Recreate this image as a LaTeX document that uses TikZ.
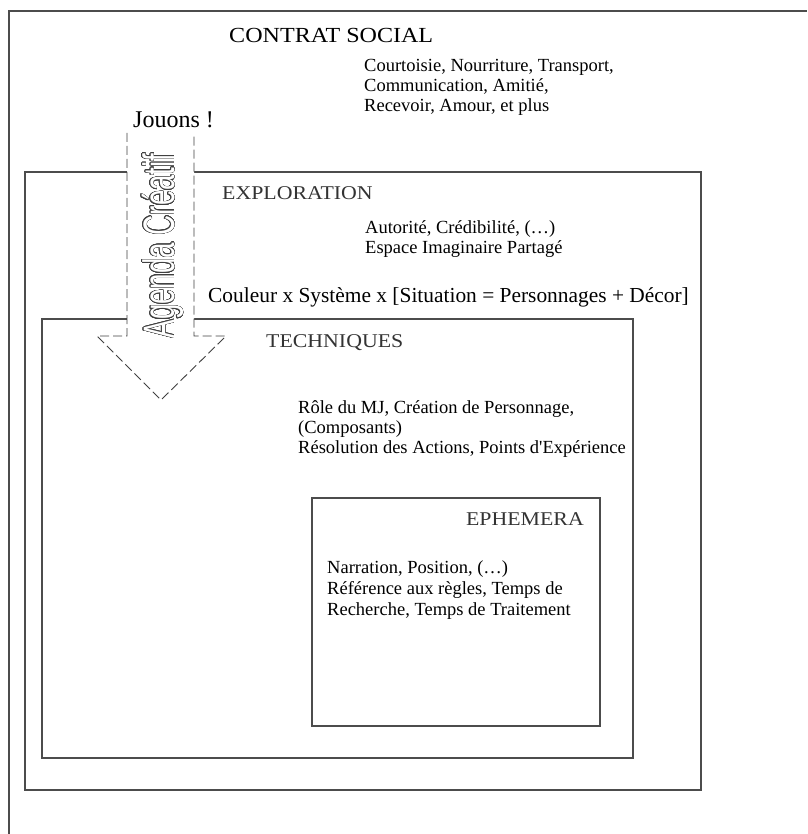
\documentclass[tikz,border=0pt]{standalone}
\usepackage{fontspec}
\setmainfont{Liberation Serif}
\newfontfamily\capsfam[FakeStretch=1.12]{Liberation Serif}
\newfontfamily\agendafam[FakeStretch=0.63]{Liberation Sans}
\usepackage{contour}
\contourlength{0.5pt}
\contournumber{24}
\usetikzlibrary{positioning}
\newcommand\straightquote{\XeTeXglyph\XeTeXcharglyph"27\relax}
\tikzset{
  layerbox/.style={draw=black!70, line width=1.1pt},
  heading/.style={anchor=base west, inner sep=0pt, text=black!80, font=\capsfam\fontsize{19.5}{22}\selectfont},
  bigtext/.style={anchor=base west, inner sep=0pt, font=\fontsize{21.4}{24}\selectfont},
  itemlist/.style={anchor=north west, inner sep=0pt, align=left, font=\fontsize{18.5}{20}\selectfont},
  agendaline/.style={draw=black!75, line width=0.9pt, dash pattern=on 9pt off 4pt},
}

\begin{document}
\begin{tikzpicture}[x=1pt, y=-1pt]
  \useasboundingbox (0,0) rectangle (807,834);

  % frame of the page
  \draw[layerbox] (9,834) |- (807,11);

  % nested layers
  \draw[layerbox] (25,172) rectangle (701,790);
  \draw[layerbox] (42,319) rectangle (633,758);
  \draw[layerbox, line width=2pt] (633,360) -- (633,573);
  \draw[layerbox] (312,498) rectangle (600,726);

  % social contract
  \node[bigtext, font=\capsfam\fontsize{21.5}{24}\selectfont] (contrat) at (229,43) {CONTRAT SOCIAL};
  \node[itemlist] (courtoisie) at (364,59)
    {Courtoisie, Nourriture, Transport,\\Communication, Amitié,\\Recevoir, Amour, et plus};
  \node[bigtext, font=\fontsize{24}{26}\selectfont] (jouons) at (133,128) {Jouons !};

  % exploration
  \node[heading] (explo) at (222,200) {EXPLORATION};
  \node[itemlist] (autorite) at (365,220)
    {Autorité, Crédibilité, (…)\\Espace Imaginaire Partagé};
  \node[bigtext] (couleur) at (208,302) {Couleur x Système x [Situation = Personnages + Décor]};

  % techniques
  \node[heading] (techniques) at (266,347) {TECHNIQUES};
  \node[itemlist] (role) at (298,400)
    {Rôle du MJ, Création de Personnage,\\(Composants)\\Résolution des Actions, Points d\straightquote Expérience};

  % ephemera
  \node[heading, anchor=base east] (ephemera) at (584,525) {EPHEMERA};
  \node[itemlist, font=\fontsize{18.5}{21}\selectfont] (narration) at (327,560)
    {Narration, Position, (…)\\Référence aux règles, Temps de\\Recherche, Temps de Traitement};

  % creative agenda arrow
  \coordinate (shaftL) at (127,133);
  \coordinate (shaftR) at (194,133);
  \coordinate (tip) at (161,400);
  \fill[white] (shaftL) -- (127,336) -- (97,336) -- (tip) -- (226,336) -- (194,336) -- (shaftR) -- cycle;
  \draw[agendaline] (shaftL) -- (127,336) -- (97,336) -- (tip) -- (226,336) -- (194,336) -- (shaftR);
  \node[rotate=90, inner sep=0pt, text=white, font=\agendafam\fontsize{44}{46}\selectfont] (agenda) at (163,246)
    {\contour{black!75}{Agenda Créatif}};
\end{tikzpicture}
\end{document}
